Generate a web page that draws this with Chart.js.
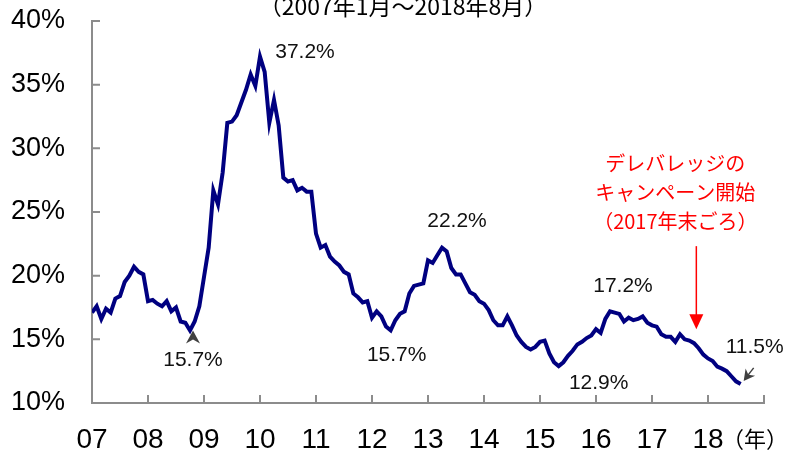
<!DOCTYPE html>
<html lang="ja">
<head>
<meta charset="utf-8">
<script src="https://cdn.jsdelivr.net/npm/chart.js@4.4.1/dist/chart.umd.min.js"></script>
<style>
  body { margin: 0; background: #fff; }
  #wrap { position: relative; width: 785px; height: 450px; }
</style>
</head>
<body>
<div id="wrap"><canvas id="ratio"></canvas></div>
<script>
// monthly, index 0 = 2007/01 ... 139 = 2018/08
const yearLabels = ['07', '08', '09', '10', '11', '12', '13', '14', '15', '16', '17', '18'];
const yearUnit = '（年）';
const periodText = '（2007年1月～2018年8月）';
const campaignText = ['デレバレッジの', 'キャンペーン開始', '（2017年末ごろ）'];
const campaignMonth = 129.5;

const ratio = [
    17.1, 17.6, 16.6, 17.4, 17.1, 18.2, 18.4, 19.5, 20.0, 20.7, 20.3, 20.1,  // 2007
    18.0, 18.1, 17.8, 17.6, 18.0, 17.2, 17.5, 16.4, 16.3, 15.7, 16.4, 17.6,  // 2008
    19.9, 22.2, 26.7, 25.6, 28.1, 32.0, 32.1, 32.6, 33.6, 34.6, 35.8, 34.9,  // 2009
    37.2, 36.0, 32.0, 33.8, 31.8, 27.7, 27.4, 27.5, 26.7, 26.9, 26.6, 26.6,  // 2010
    23.3, 22.2, 22.4, 21.5, 21.1, 20.8, 20.3, 20.1, 18.6, 18.3, 17.9, 18.0,  // 2011
    16.7, 17.2, 16.8, 16.0, 15.7, 16.5, 17.0, 17.2, 18.6, 19.2, 19.3, 19.4,  // 2012
    21.2, 21.0, 21.6, 22.2, 21.9, 20.6, 20.1, 20.1, 19.4, 18.7, 18.5, 18.0,  // 2013
    17.8, 17.3, 16.5, 16.1, 16.1, 16.8, 16.1, 15.3, 14.8, 14.4, 14.2, 14.4,  // 2014
    14.8, 14.9, 13.9, 13.2, 12.9, 13.2, 13.7, 14.1, 14.6, 14.8, 15.1, 15.3,  // 2015
    15.8, 15.5, 16.6, 17.2, 17.1, 17.0, 16.4, 16.7, 16.5, 16.6, 16.8, 16.3,  // 2016
    16.1, 16.0, 15.4, 15.2, 15.2, 14.8, 15.4, 15.0, 14.9, 14.7, 14.3, 13.8,  // 2017
    13.5, 13.3, 12.85, 12.7, 12.5, 12.1, 11.7, 11.5                           // 2018
];

// labelled points: month index and label text
const notes = [
    {i: 36, text: '37.2%', dx: 45, dy: -4},
    {i: 21, text: '15.7%', dx: 3, dy: 30, arrow: 'up'},
    {i: 64, text: '15.7%', dx: 6, dy: 25},
    {i: 75, text: '22.2%', dx: 15, dy: -26},
    {i: 111, text: '17.2%', dx: 13, dy: -25},
    {i: 100, text: '12.9%', dx: 40, dy: 17},
    {i: 139, text: '11.5%', dx: 14, dy: -37, arrow: 'diag'}
];

const AXIS_GREY = '#8c8c8c';
const TICK_FONT = '"Liberation Sans", Arial, sans-serif';
const JP_FONT = '"Noto Sans CJK JP", sans-serif';

let points = ratio.map((v, i) => ({x: i, y: v}));

function arrowHead(ctx, x, y, ang, len, half, color) {
    ctx.save();
    ctx.translate(x, y);
    ctx.rotate(ang);
    ctx.fillStyle = color;
    ctx.beginPath();
    ctx.moveTo(0, 0);
    ctx.lineTo(-len, -half);
    ctx.lineTo(-len * 0.7, 0);
    ctx.lineTo(-len, half);
    ctx.closePath();
    ctx.fill();
    ctx.restore();
}

const inwardTicks = {
    id: 'inwardTicks',
    beforeDatasetsDraw(chart) {
        let ctx = chart.ctx;
        let xs = chart.scales.x, ys = chart.scales.y;
        let a = chart.chartArea;
        ctx.save();
        ctx.strokeStyle = AXIS_GREY;
        ctx.lineWidth = 2;
        ctx.beginPath();
        ys.ticks.forEach(t => {
            let py = ys.getPixelForValue(t.value);
            ctx.moveTo(a.left, py);
            ctx.lineTo(a.left + 8, py);
        });
        xs.ticks.forEach(t => {
            let px = xs.getPixelForValue(t.value);
            ctx.moveTo(px, a.bottom);
            ctx.lineTo(px, a.bottom - 8);
        });
        ctx.stroke();
        ctx.restore();
    }
};

const notesPlugin = {
    id: 'notes',
    afterDatasetsDraw(chart) {
        let ctx = chart.ctx;
        let xs = chart.scales.x, ys = chart.scales.y;
        ctx.save();
        ctx.textAlign = 'center';
        ctx.textBaseline = 'middle';

        // period
        ctx.fillStyle = '#000';
        ctx.font = '23px ' + JP_FONT;
        ctx.fillText(periodText, 403, 6);

        // value labels
        ctx.font = '21px ' + TICK_FONT;
        notes.forEach(n => {
            let px = xs.getPixelForValue(n.i);
            let py = ys.getPixelForValue(ratio[n.i]);
            ctx.fillStyle = '#111';
            ctx.fillText(n.text, px + n.dx, py + n.dy);
            if (n.arrow == 'up') {
                arrowHead(ctx, px + 3, py, -Math.PI / 2, 13, 7, '#404040');
            } else if (n.arrow == 'diag') {
                let x0 = px + 13, y0 = py - 16, x1 = px + 3, y1 = py - 3;
                ctx.strokeStyle = '#404040';
                ctx.lineWidth = 1.5;
                ctx.beginPath();
                ctx.moveTo(x0, y0);
                ctx.lineTo(x1 + 3, y1 - 4);
                ctx.stroke();
                arrowHead(ctx, x1, y1, Math.atan2(y1 - y0, x1 - x0), 11, 6, '#404040');
            }
        });

        // campaign note (red)
        let cx = xs.getPixelForValue(campaignMonth);
        ctx.fillStyle = '#ff0000';
        ctx.font = '20px ' + JP_FONT;
        campaignText.forEach((s, k) => ctx.fillText(s, cx - 21, 163 + k * 29));
        let tipY = ys.getPixelForValue(15.8);
        ctx.strokeStyle = '#ff0000';
        ctx.lineWidth = 1.5;
        ctx.beginPath();
        ctx.moveTo(cx, tipY - 83);
        ctx.lineTo(cx, tipY - 12);
        ctx.stroke();
        ctx.beginPath();
        ctx.moveTo(cx, tipY);
        ctx.lineTo(cx - 7, tipY - 15);
        ctx.lineTo(cx + 7, tipY - 15);
        ctx.closePath();
        ctx.fill();

        // year unit
        ctx.fillStyle = '#000';
        ctx.font = '22px ' + JP_FONT;
        ctx.fillText(yearUnit, 755, 439);
        ctx.restore();
    }
};

let chart = new Chart(document.getElementById('ratio'), {
    type: 'line',
    data: {
        datasets: [{
            data: points,
            borderColor: '#000080',
            borderWidth: 4,
            pointRadius: 0,
            tension: 0,
            fill: false
        }]
    },
    options: {
        responsive: true,
        maintainAspectRatio: false,
        animation: false,
        events: [],
        layout: {padding: {top: 21, right: 21, left: 0, bottom: 0}},
        plugins: {legend: {display: false}, tooltip: {enabled: false}},
        scales: {
            x: {
                type: 'linear',
                min: 0,
                max: 144,
                grid: {display: false, drawTicks: false},
                border: {display: true, color: AXIS_GREY, width: 2},
                ticks: {
                    stepSize: 12,
                    autoSkip: false,
                    maxRotation: 0,
                    padding: 20,
                    color: '#000',
                    font: {family: TICK_FONT, size: 28},
                    callback: v => (v % 12 === 0 && v / 12 < yearLabels.length) ? yearLabels[v / 12] : ''
                },
                afterFit: s => { s.height = 47; s.paddingLeft = 0; s.paddingRight = 0; }
            },
            y: {
                min: 10,
                max: 40,
                grid: {display: false, drawTicks: false},
                border: {display: true, color: AXIS_GREY, width: 2},
                ticks: {
                    stepSize: 5,
                    padding: 27,
                    color: '#000',
                    font: {family: TICK_FONT, size: 27},
                    callback: v => v + '%'
                },
                afterFit: s => { s.width = 92; s.paddingTop = 0; s.paddingBottom = 0; }
            }
        }
    },
    plugins: [inwardTicks, notesPlugin]
});
</script>
</body>
</html>
